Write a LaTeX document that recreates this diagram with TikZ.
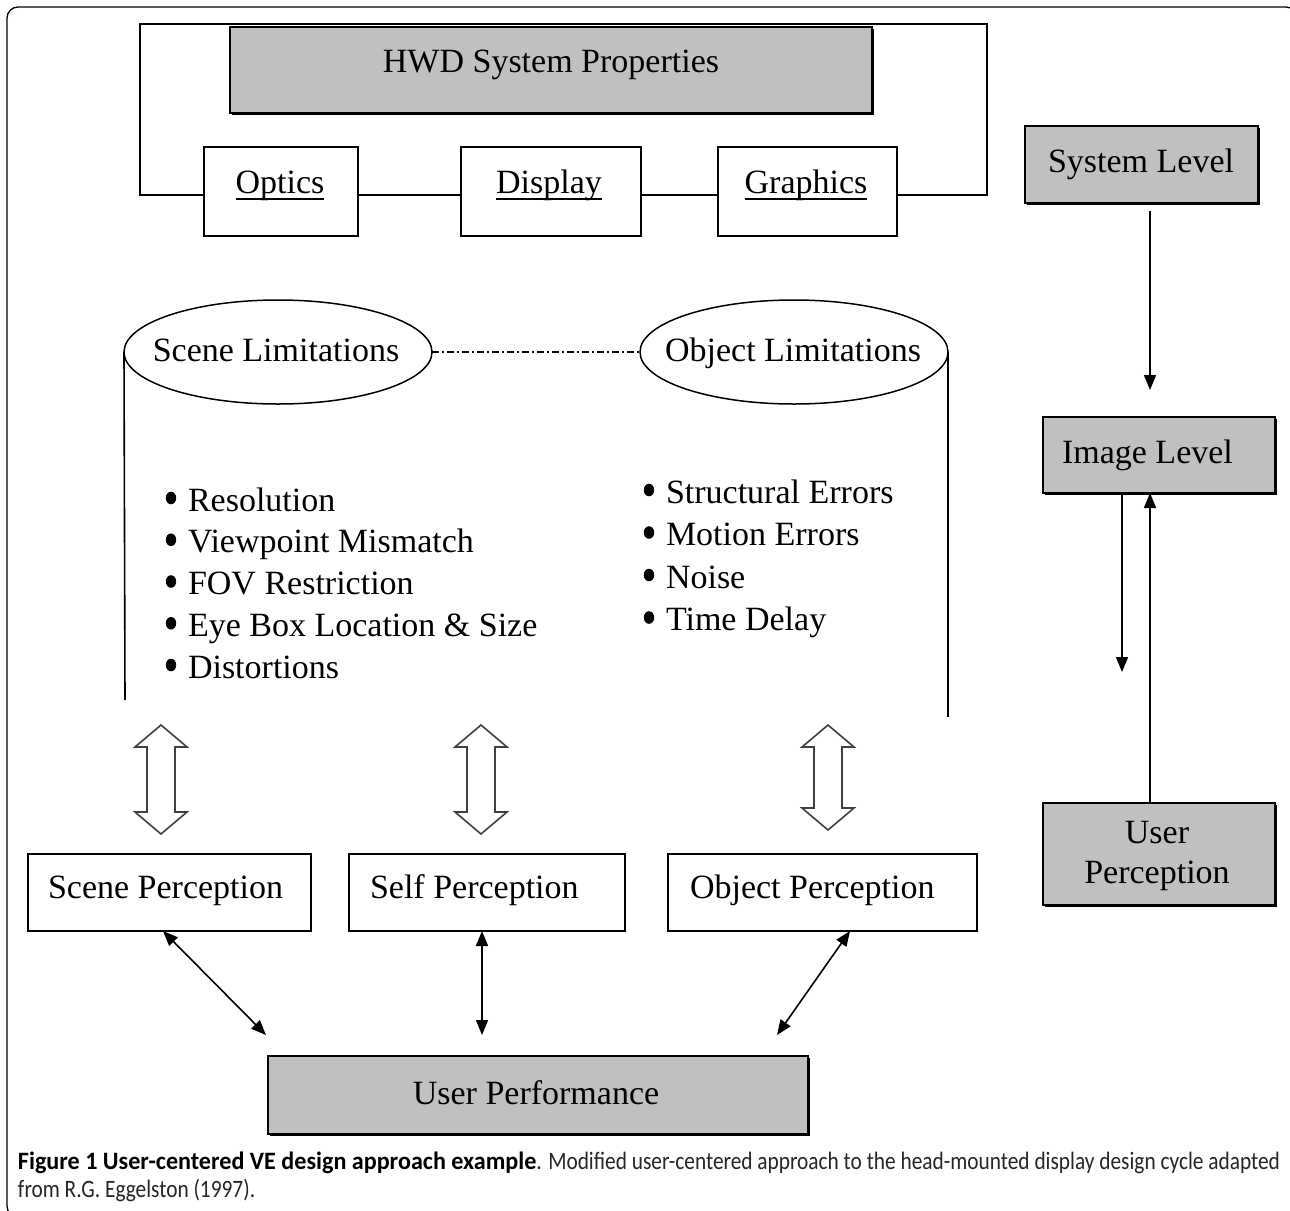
\documentclass[tikz,border=0pt]{standalone}
\usepackage{graphicx}
\usepackage{fontspec}
\setmainfont{Liberation Serif}
\newfontfamily\capfont{Carlito}
\usetikzlibrary{arrows.meta,shadows,calc,shapes.geometric}
\definecolor{boxgray}{HTML}{C0C0C0}
\definecolor{capgray}{HTML}{262626}
\newcommand\myul[1]{\setbox0\hbox{#1}\rlap{\rule[-7pt]{\wd0}{1.6pt}}\box0}
\newcommand\hollowarr[3]{%
  \draw[harr] (#1,#2) -- ({#1+26},{#2+22}) -- ({#1+14},{#2+22}) -- ({#1+14},{#3-22})
    -- ({#1+26},{#3-22}) -- (#1,#3) -- ({#1-26},{#3-22}) -- ({#1-14},{#3-22})
    -- ({#1-14},{#2+22}) -- ({#1-26},{#2+22}) -- cycle;}
\begin{document}
\begin{tikzpicture}[x=1pt,y=-1pt,
  every node/.style={inner sep=0pt,outer sep=0pt},
  wbox/.style={draw,line width=1.6pt,fill=white,rectangle},
  gbox/.style={draw,line width=1.6pt,fill=boxgray,rectangle,
     drop shadow={shadow xshift=1.6pt,shadow yshift=-1.6pt,fill=black,opacity=1}},
  ell/.style={draw,line width=1.5pt,ellipse,fill=white},
  lbl/.style={anchor=base,font=\fontsize{34}{40}\selectfont},
  lbll/.style={anchor=base west,font=\fontsize{34}{40}\selectfont},
  thinl/.style={line width=1.6pt},
  harr/.style={line width=1.6pt,draw=black!75,fill=white,line join=miter},
  arr/.style={line width=1.6pt,-{Triangle[length=15pt,width=12pt]}},
  darr/.style={line width=1.6pt,{Triangle[length=15pt,width=12pt]}-{Triangle[length=15pt,width=12pt]}},
  dot/.style={fill=black}
]
\useasboundingbox (0,0) rectangle (1290,1210);
\clip (0,0) rectangle (1290,1210);
\fill[white] (0,0) rectangle (1290,1210);

% outer frame
\draw[line width=1.3pt,rounded corners=11pt] (7,7) rectangle (1297,1217);

% HWD part
\node[gbox,minimum width=642pt,minimum height=86pt] (hwd) at (551,70) {};
\node[lbl] (hwdt) at (551,72) {HWD System Properties};
\node[wbox,minimum width=154pt,minimum height=89pt] (optics) at (281,191.5) {};
\node[wbox,minimum width=180pt,minimum height=89pt] (display) at (551,191.5) {};
\node[wbox,minimum width=179pt,minimum height=89pt] (graphics) at (807.5,191.5) {};
\node[lbl] (opticst) at (280,193) {\myul{Optics}};
\node[lbl] (displayt) at (549,193) {\myul{Display}};
\node[lbl] (graphicst) at (806,193) {\myul{Graphics}};
\draw[thinl] ($(optics.west)+(0,3.5)$) -- (140,195) -- (140,24) -- (987,24) -- (987,195) -- ($(graphics.east)+(0,3.5)$);
\draw[thinl] ($(optics.east)+(0,3.5)$) -- ($(display.west)+(0,3.5)$);
\draw[thinl] ($(display.east)+(0,3.5)$) -- ($(graphics.west)+(0,3.5)$);

% cylinder
\node[ell,minimum width=308pt,minimum height=104pt] (scenelim) at (278,352) {};
\node[ell,minimum width=308pt,minimum height=104pt] (objlim) at (794,352) {};
\node[lbl] (scenelimt) at (276,361) {Scene Limitations};
\node[lbl] (objlimt) at (793,361) {Object Limitations};
\draw[line width=1.2pt,dash pattern=on 7pt off 3pt on 2pt off 3pt] (scenelim.east) -- (objlim.west);
\coordinate (cylL) at (125,700);
\coordinate (cylR) at (948,717);
\draw[thinl] (scenelim.west) -- (cylL);
\draw[thinl] (objlim.east) -- (cylR);

% bullet lists
\foreach \t [count=\i from 0] in {Resolution,Viewpoint Mismatch,FOV Restriction,Eye Box Location \& Size,Distortions}{
  \fill[dot] (171,{498+41.75*\i}) ellipse (5.2 and 6.3);
  \node[lbll] (sl\i) at (188,{511+41.75*\i}) {\t};
}
\foreach \t [count=\i from 0] in {Structural Errors,Motion Errors,Noise,Time Delay}{
  \fill[dot] (649,{490+42.5*\i}) ellipse (5.2 and 6.3);
  \node[lbll] (ol\i) at (666,{503+42.5*\i}) {\t};
}

% hollow double arrows
\hollowarr{161}{725}{834}
\hollowarr{481}{725}{834}
\hollowarr{828}{725}{830}

% perception boxes
\node[wbox,minimum width=283pt,minimum height=77pt] (scenep) at (169.5,892.5) {};
\node[wbox,minimum width=276pt,minimum height=77pt] (selfp) at (487,892.5) {};
\node[wbox,minimum width=309pt,minimum height=77pt] (objp) at (822.5,892.5) {};
\node[lbll] (scenept) at (48,898) {Scene Perception};
\node[lbll] (selfpt) at (370,898) {Self Perception};
\node[lbll] (objpt) at (690,898) {Object Perception};

% user performance
\node[gbox,minimum width=540pt,minimum height=78pt] (userperf) at (538,1095) {};
\node[lbl] (userperft) at (536,1104) {User Performance};

\coordinate (e1) at (266,1035);
\coordinate (e2) at (482,1035);
\coordinate (e3) at (777,1035);
\draw[darr] ($(scenep.south west)+(135,0)$) -- (e1);
\draw[darr] ($(selfp.south west)+(133,0)$) -- (e2);
\draw[darr] ($(objp.south west)+(182,0)$) -- (e3);

% right column
\node[gbox,minimum width=233pt,minimum height=77pt] (syslevel) at (1141.5,164.5) {};
\node[lbl] (syslevelt) at (1141,172) {System Level};
\node[gbox,minimum width=232pt,minimum height=76pt] (imglevel) at (1159,455) {};
\node[lbll] (imglevelt) at (1062,463) {Image Level};
\node[gbox,minimum width=232pt,minimum height=102pt] (userperc) at (1159,854) {};
\node[lbl] (userperct1) at (1157,843) {User};
\node[lbl] (userperct2) at (1157,883) {Perception};

\coordinate (s1) at (1150,211);
\coordinate (s2) at (1150,390);
\draw[arr] (s1) -- (s2);
\coordinate (d1) at (1122,672);
\draw[arr] ($(imglevel.south west)+(79,0)$) -- (d1);
\draw[arr] ($(userperc.north west)+(107,0)$) -- ($(imglevel.south west)+(107,0)$);

% caption
\node[anchor=base west] (caption) at (18,1169) {\resizebox{1262pt}{\height}{\capfont\fontsize{25}{28}\selectfont\color{capgray}%
\begin{tabular}[t]{@{}l@{}}\scalebox{1.13}[1]{\color{black}\bfseries Figure 1 User-centered VE design approach example}. Modified user-centered approach to the head-mounted display design cycle adapted\\
from R.G. Eggelston (1997).\end{tabular}}};
\end{tikzpicture}
\end{document}
